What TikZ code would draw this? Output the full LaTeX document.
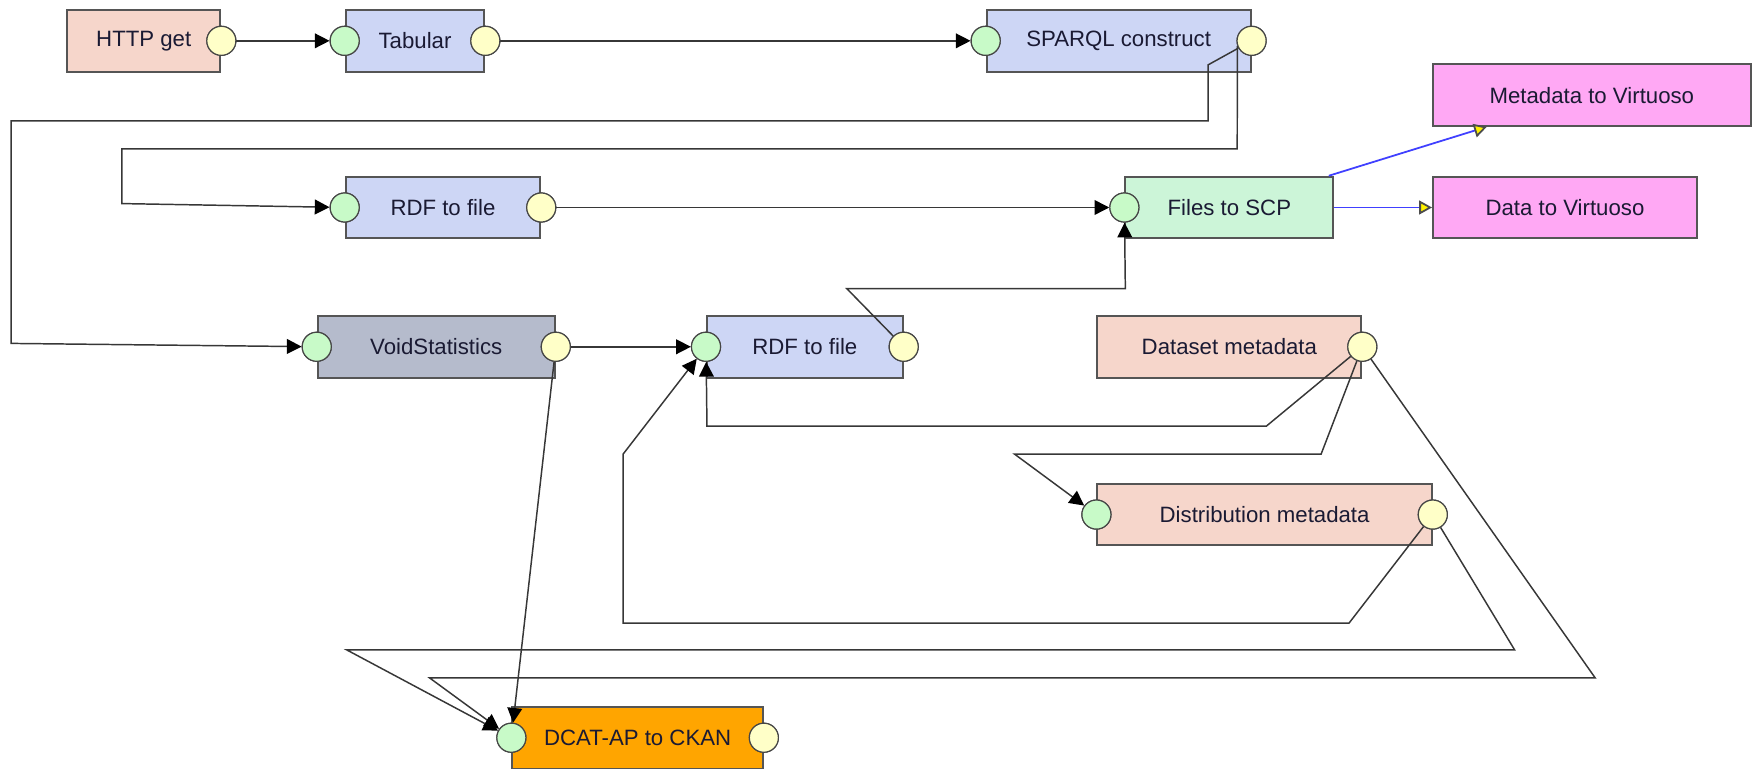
\documentclass[tikz,border=0pt]{standalone}
\usepackage{fontspec}
\setmainfont{Liberation Sans}
\usetikzlibrary{arrows.meta}
\definecolor{salmon}{RGB}{246,214,203}
\definecolor{lblue}{RGB}{205,214,245}
\definecolor{voidc}{RGB}{181,187,204}
\definecolor{lgreen}{RGB}{204,245,216}
\definecolor{pinkc}{RGB}{255,168,244}
\definecolor{orangec}{RGB}{255,165,0}
\definecolor{greenport}{RGB}{200,250,200}
\definecolor{yellowport}{RGB}{255,255,200}
\definecolor{boxline}{RGB}{85,85,85}
\definecolor{portline}{RGB}{70,70,70}
\definecolor{connline}{RGB}{55,55,55}
\definecolor{blueline}{RGB}{64,64,255}
\definecolor{txt}{RGB}{26,26,51}
\begin{document}
\begin{tikzpicture}[x=0.02cm,y=-0.02cm,
  box/.style={draw=boxline, line width=1pt, rectangle, minimum height=1.1cm, inner sep=0pt, text=txt, font=\fontsize{11.3}{13}\selectfont},
  portin/.style={circle, draw=portline, line width=0.6pt, fill=greenport, minimum size=0.52cm, inner sep=0pt},
  portout/.style={circle, draw=portline, line width=0.6pt, fill=yellowport, minimum size=0.52cm, inner sep=0pt},
  conn/.style={draw=connline, line width=0.75pt},
  arr/.style={conn, -{Triangle[length=7.5pt,width=7.5pt,color=black]}},
  blu/.style={draw=blueline, line width=0.9pt, -{Triangle[length=6.5pt,width=7pt,color=black!70,fill=yellow]}}
]
\useasboundingbox (0,0) rectangle (1568,688);

% boxes
\node[box, fill=salmon, minimum width=2.74cm] (http) at (128.5,36.5) {HTTP get};
\node[box, fill=lblue, minimum width=2.48cm] (tab) at (371,36.5) {Tabular};
\node[box, fill=lblue, minimum width=4.72cm] (sparql) at (1000,36.5) {SPARQL construct};
\node[box, fill=pinkc, minimum width=5.68cm] (mv) at (1423,85) {Metadata to Virtuoso};
\node[box, fill=pinkc, minimum width=4.72cm] (dv) at (1399,185.5) {Data to Virtuoso};
\node[box, fill=lgreen, minimum width=3.72cm] (files) at (1099,185.5) {Files to SCP};
\node[box, fill=lblue, minimum width=3.48cm] (rdfa) at (396,185.5) {RDF to file};
\node[box, fill=voidc, minimum width=4.24cm] (void) at (390,310) {VoidStatistics};
\node[box, fill=lblue, minimum width=3.50cm] (rdfb) at (719.5,310) {RDF to file};
\node[box, fill=salmon, minimum width=4.72cm] (ds) at (1099,310) {Dataset metadata};
\node[box, fill=salmon, minimum width=5.98cm] (dist) at (1130.5,460) {Distribution metadata};
\node[box, fill=orangec, minimum width=4.48cm] (dcat) at (570,659.5) {DCAT-AP to CKAN};

% ports
\node[portout] (http-o) at (http.east) {};
\node[portin] (tab-i) at (tab.west) {};
\node[portout] (tab-o) at (tab.east) {};
\node[portin] (sparql-i) at (sparql.west) {};
\node[portout] (sparql-o) at (sparql.east) {};
\node[portin] (files-i) at (files.west) {};
\node[portin] (rdfa-i) at (rdfa.west) {};
\node[portout] (rdfa-o) at (rdfa.east) {};
\node[portin] (void-i) at (void.west) {};
\node[portout] (void-o) at (void.east) {};
\node[portin] (rdfb-i) at (rdfb.west) {};
\node[portout] (rdfb-o) at (rdfb.east) {};
\node[portout] (ds-o) at (ds.east) {};
\node[portin] (dist-i) at (dist.west) {};
\node[portout] (dist-o) at (dist.east) {};
\node[portin] (dcat-i) at (dcat.west) {};
\node[portout] (dcat-o) at (dcat.east) {};

% connectors
\draw[arr] (http-o) -- (tab-i);
\draw[arr] (tab-o) -- (sparql-i);
\draw[arr] (sparql-o) -- (1080,58) -- (1080,108) -- (10,108) -- (10,307) -- (void-i);
\draw[arr] (sparql-o.200) -- (1106,133) -- (109,133) -- (109,182) -- (rdfa-i);
\draw[arr] (rdfa-o) -- (files-i);
\draw[arr] (void-o) -- (rdfb-i);
\draw[arr] (void-o) -- (dcat-i);
\draw[arr] (rdfb-o) -- (757,258) -- (1006,258) -- (files-i);
\draw[arr] (ds-o) -- (1132,381) -- (632,381) -- (rdfb-i);
\draw[arr] (ds-o) -- (1181,406) -- (907,406) -- (dist-i);
\draw[arr] (ds-o) -- (1426,606) -- (384,606) -- (dcat-i);
\draw[arr] (dist-o) -- (1206,557) -- (557,557) -- (557,406) -- (rdfb-i);
\draw[arr] (dist-o) -- (1354,581) -- (310,581) -- (dcat-i);
\draw[blu] ([xshift=-0.1cm]files.north east) -- ([xshift=0.98cm]mv.south west);
\draw[blu] (files.east) -- (dv.west);

% redraw ports on top
\foreach \p in {http-o,tab-o,sparql-o,rdfa-o,void-o,rdfb-o,ds-o,dist-o,dcat-o}
  \fill[yellowport, draw=portline, line width=0.6pt] (\p.center) circle (0.26cm);
\foreach \p in {tab-i,sparql-i,files-i,rdfa-i,void-i,rdfb-i,dist-i,dcat-i}
  \fill[greenport, draw=portline, line width=0.6pt] (\p.center) circle (0.26cm);
\end{tikzpicture}
\end{document}
